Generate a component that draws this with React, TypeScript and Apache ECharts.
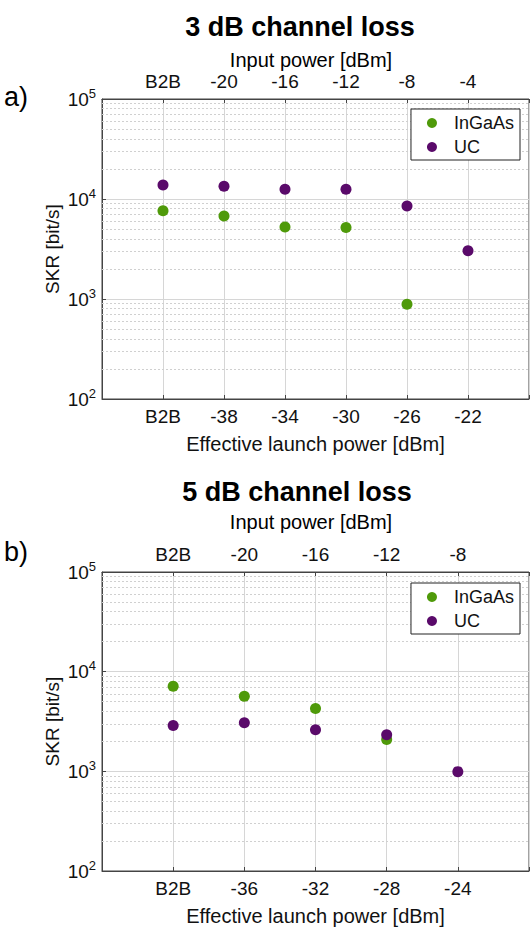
import React, { useEffect, useRef } from "react";
import * as echarts from "echarts";

// Panel a) 3 dB channel loss
const topLabelsA = ["B2B", "-20", "-16", "-12", "-8", "-4"];
const bottomLabelsA = ["B2B", "-38", "-34", "-30", "-26", "-22"];
const ingaasA = [7640, 6760, 5250, 5180, 885];
const ucA = [13800, 13400, 12500, 12500, 8510, 3040];

// Panel b) 5 dB channel loss
const topLabelsB = ["B2B", "-20", "-16", "-12", "-8"];
const bottomLabelsB = ["B2B", "-36", "-32", "-28", "-24"];
const ingaasB = [7130, 5670, 4270, 2090];
const ucB = [2880, 3070, 2610, 2330, 993];

const seriesNames = ["InGaAs", "UC"];

const GREEN = "#4f9a0a";
const PURPLE = "#5a0a6a";
const FONT = "Liberation Sans, Arial, Helvetica, sans-serif";

const minorValues: number[] = [];
for (let d = 100; d < 100000; d *= 10) {
  for (let m = 2; m <= 9; m++) minorValues.push(d * m);
}

function toPoints(vals: number[]) {
  return vals.map((v, i) => [i, v]);
}

export default function App() {
  const ref = useRef<HTMLDivElement>(null);
  useEffect(() => {
    if (!ref.current) return;
    const chart = echarts.init(ref.current, null, { renderer: "svg" });

    const grids = [
      { left: 102, right: 1, top: 99, height: 300 },
      { left: 102, right: 1, top: 572, height: 299 },
    ].map((g) => ({
      ...g,
      show: true,
      borderColor: "#444",
      borderWidth: 1,
      backgroundColor: "#fff",
      containLabel: false,
    }));

    const mkX = (gridIndex: number, labels: string[], max: number, position: "top" | "bottom", name: string) => ({
      type: "value",
      gridIndex,
      position,
      min: -1,
      max,
      interval: 1,
      name: position === "bottom" ? name : "",
      nameLocation: "middle",
      nameGap: 35,
      nameMoveOverlap: false,
      nameTextStyle: { fontFamily: FONT, fontSize: 20, color: "#111" },
      axisLine: { show: true, onZero: false, lineStyle: { color: "#444" } },
      axisTick: { show: true, inside: true, length: 4, lineStyle: { color: "#444" } },
      axisLabel: {
        show: true,
        margin: 8,
        fontFamily: FONT,
        fontSize: 19,
        color: "#111",
        showMinLabel: true,
        showMaxLabel: true,
        formatter: (v: number) => (v >= 0 && v < labels.length ? labels[v] : ""),
      },
      splitLine: {
        show: position === "bottom",
        lineStyle: { color: "#d6d6d6", width: 1 },
      },
    });

    const mkY = (gridIndex: number) => ({
      type: "log",
      gridIndex,
      logBase: 10,
      min: 100,
      max: 100000,
      name: "SKR [bit/s]",
      nameLocation: "middle",
      nameGap: 40,
      nameMoveOverlap: false,
      nameTextStyle: { fontFamily: FONT, fontSize: 19, color: "#111" },
      axisLine: { show: true, onZero: false, lineStyle: { color: "#444" } },
      axisTick: { show: true, inside: true, length: 4, lineStyle: { color: "#444" } },
      axisLabel: {
        margin: 6,
        fontFamily: FONT,
        color: "#111",
        formatter: (v: number) => {
          const e = Math.round(Math.log10(v));
          return "{b|10}{s|" + e + "}";
        },
        rich: {
          b: { fontFamily: FONT, fontSize: 19, color: "#111" },
          s: { fontFamily: FONT, fontSize: 13, color: "#111", padding: [0, 0, 12, 0] },
        },
      },
      splitLine: { show: true, lineStyle: { color: "#d6d6d6", width: 1 } },
    });

    const minorSeries = (idx: number) => ({
      type: "scatter",
      name: "minor" + idx,
      xAxisIndex: idx * 2,
      yAxisIndex: idx,
      data: [],
      z: 1,
      silent: true,
      markLine: {
        silent: true,
        symbol: ["none", "none"],
        label: { show: false },
        lineStyle: { type: [2, 2], color: "#d0d0d0", width: 1 },
        data: minorValues.map((v) => ({ yAxis: v })),
        animation: false,
      },
    });

    const dataSeries = (idx: number, name: string, vals: number[], color: string) => ({
      type: "scatter",
      name,
      xAxisIndex: idx * 2,
      yAxisIndex: idx,
      data: toPoints(vals),
      symbol: "circle",
      symbolSize: 11,
      z: 5,
      itemStyle: { color, opacity: 1 },
    });

    const legendCfg = (top: number) => ({
      data: seriesNames,
      orient: "vertical",
      right: 12,
      top,
      z: 20,
      icon: "circle",
      itemWidth: 34,
      itemHeight: 10,
      itemGap: 6,
      padding: [5, 6, 4, 16],
      borderColor: "#222",
      borderWidth: 1,
      backgroundColor: "#fff",
      selectedMode: false,
      textStyle: { fontFamily: FONT, fontSize: 18, color: "#111", lineHeight: 18 },
    });

    const txt = (text: string, x: number, y: number, size: number, bold = false, align = "center") => ({
      type: "text",
      x,
      y,
      z: 10,
      style: {
        text,
        fontFamily: FONT,
        fontSize: size,
        fontWeight: bold ? "bold" : "normal",
        fill: "#000",
        textAlign: align,
        textVerticalAlign: "middle",
      },
    });

    chart.setOption({
      animation: false,
      backgroundColor: "#fff",
      grid: grids,
      xAxis: [
        mkX(0, bottomLabelsA, 6, "bottom", "Effective launch power [dBm]"),
        mkX(0, topLabelsA, 6, "top", ""),
        mkX(1, bottomLabelsB, 5, "bottom", "Effective launch power [dBm]"),
        mkX(1, topLabelsB, 5, "top", ""),
      ],
      yAxis: [mkY(0), mkY(1)],
      legend: [legendCfg(109), legendCfg(583)],
      series: [
        minorSeries(0),
        minorSeries(1),
        dataSeries(0, "InGaAs", ingaasA, GREEN),
        dataSeries(0, "UC", ucA, PURPLE),
        dataSeries(1, "InGaAs", ingaasB, GREEN),
        dataSeries(1, "UC", ucB, PURPLE),
      ],
      graphic: [
        txt("3 dB channel loss", 300, 27, 27, true),
        txt("Input power [dBm]", 311, 60, 20),
        txt("a)", 4, 97, 27, false, "left"),
        txt("5 dB channel loss", 297, 492, 27, true),
        txt("Input power [dBm]", 311, 522, 20),
        txt("b)", 4, 552, 27, false, "left"),
      ],
    });
    return () => chart.dispose();
  }, []);
  return (
    <div
      ref={ref}
      style={{ position: "fixed", left: 0, top: 0, width: 532, height: 928, background: "#fff" }}
    />
  );
}
